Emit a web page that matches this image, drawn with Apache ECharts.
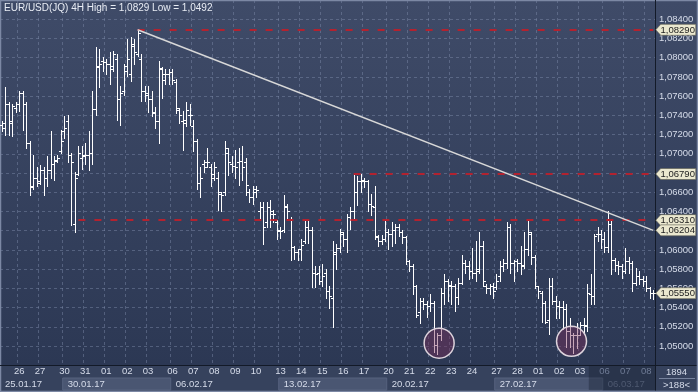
<!DOCTYPE html>
<html>
<head>
<meta charset="utf-8">
<script src="https://cdn.jsdelivr.net/npm/echarts@6/dist/echarts.min.js"></script>
<style>
html,body{margin:0;padding:0;background:#33405c;}
#c{width:698px;height:392px;}
</style>
</head>
<body>
<div id="c"></div>
<script>
// ---- Data (EUR/USD 4H bars) ----
const opens = [
1.0730,1.0732,1.0752,1.0734,1.0748,1.0752,1.0763,1.0752,1.0711,1.0667,1.0675,1.0672,1.0683,1.0675,1.0683,1.0689,1.0694,1.0703,1.0724,1.0734,
1.0699,1.0627,1.0679,1.0696,1.0698,1.0699,1.0701,1.0747,1.0790,1.0797,1.0795,1.0793,1.0791,1.0799,1.0757,1.0765,1.0786,1.0783,1.0812,1.0804,
1.0799,1.0765,1.0763,1.0757,1.0742,1.0734,1.0789,1.0783,1.0783,1.0785,1.0775,1.0746,1.0734,1.0735,1.0740,1.0729,1.0713,1.0670,1.0689,1.0691,
1.0686,1.0679,1.0675,1.0658,1.0660,1.0701,1.0689,1.0687,1.0691,1.0693,1.0691,1.0660,1.0655,1.0660,1.0640,1.0645,1.0629,1.0645,1.0637,1.0629,
1.0620,1.0621,1.0646,1.0632,1.0603,1.0598,1.0601,1.0609,1.0624,1.0621,1.0576,1.0576,1.0568,1.0576,1.0557,1.0550,1.0598,1.0602,1.0617,1.0611,
1.0634,1.0640,1.0660,1.0672,1.0672,1.0672,1.0648,1.0645,1.0613,1.0609,1.0611,1.0619,1.0617,1.0621,1.0624,1.0619,1.0613,1.0589,1.0583,1.0562,
1.0535,1.0547,1.0544,1.0542,1.0545,1.0501,1.0511,1.0555,1.0568,1.0563,1.0562,1.0551,1.0566,1.0586,1.0583,1.0578,1.0576,1.0580,1.0604,1.0563,
1.0560,1.0562,1.0561,1.0573,1.0583,1.0586,1.0624,1.0586,1.0588,1.0586,1.0584,1.0601,1.0617,1.0593,1.0562,1.0555,1.0545,1.0527,1.0563,1.0547,
1.0542,1.0541,1.0539,1.0516,1.0511,1.0512,1.0512,1.0522,1.0521,1.0554,1.0552,1.0617,1.0617,1.0611,1.0603,1.0627,1.0590,1.0584,1.0583,1.0578,
1.0588,1.0586,1.0566,1.0573,1.0570,1.0568,1.0560,1.0555];
const highs = [
1.0734,1.0769,1.0754,1.0752,1.0754,1.0765,1.0765,1.0754,1.0713,1.0699,1.0686,1.0688,1.0686,1.0698,1.0724,1.0698,1.0699,1.0725,1.0739,1.0740,
1.0701,1.0681,1.0708,1.0708,1.0711,1.0724,1.0765,1.0811,1.0809,1.0801,1.0799,1.0806,1.0807,1.0804,1.0771,1.0793,1.0819,1.0821,1.0819,1.0829,
1.0804,1.0771,1.0771,1.0765,1.0749,1.0797,1.0790,1.0788,1.0788,1.0788,1.0778,1.0748,1.0745,1.0754,1.0752,1.0735,1.0715,1.0686,1.0694,1.0706,
1.0689,1.0691,1.0681,1.0660,1.0713,1.0706,1.0698,1.0704,1.0706,1.0708,1.0696,1.0663,1.0667,1.0667,1.0650,1.0650,1.0650,1.0652,1.0642,1.0631,
1.0624,1.0657,1.0648,1.0634,1.0604,1.0601,1.0611,1.0632,1.0632,1.0624,1.0583,1.0583,1.0585,1.0580,1.0563,1.0609,1.0606,1.0622,1.0619,1.0637,
1.0645,1.0679,1.0677,1.0679,1.0675,1.0673,1.0658,1.0667,1.0616,1.0616,1.0631,1.0622,1.0629,1.0627,1.0627,1.0621,1.0614,1.0590,1.0585,1.0564,
1.0550,1.0550,1.0547,1.0554,1.0547,1.0514,1.0560,1.0575,1.0570,1.0568,1.0565,1.0571,1.0595,1.0590,1.0588,1.0602,1.0609,1.0619,1.0609,1.0565,
1.0565,1.0566,1.0575,1.0588,1.0591,1.0629,1.0627,1.0590,1.0591,1.0604,1.0619,1.0631,1.0619,1.0595,1.0563,1.0557,1.0547,1.0571,1.0571,1.0552,
1.0547,1.0547,1.0544,1.0529,1.0514,1.0524,1.0525,1.0529,1.0565,1.0575,1.0617,1.0624,1.0621,1.0619,1.0640,1.0631,1.0592,1.0588,1.0585,1.0602,
1.0593,1.0588,1.0581,1.0578,1.0573,1.0573,1.0561,1.0558];
const lows = [
1.0724,1.0720,1.0720,1.0719,1.0744,1.0745,1.0725,1.0706,1.0657,1.0663,1.0667,1.0669,1.0657,1.0667,1.0675,1.0673,1.0691,1.0701,1.0716,1.0691,
1.0626,1.0619,1.0678,1.0684,1.0689,1.0683,1.0689,1.0740,1.0770,1.0786,1.0783,1.0773,1.0786,1.0735,1.0730,1.0761,1.0781,1.0776,1.0793,1.0802,
1.0755,1.0755,1.0744,1.0739,1.0727,1.0711,1.0758,1.0773,1.0773,1.0773,1.0742,1.0732,1.0704,1.0729,1.0730,1.0703,1.0663,1.0655,1.0681,1.0686,
1.0667,1.0673,1.0642,1.0640,1.0657,1.0678,1.0681,1.0675,1.0668,1.0673,1.0657,1.0650,1.0648,1.0655,1.0632,1.0606,1.0624,1.0624,1.0629,1.0611,
1.0612,1.0619,1.0631,1.0590,1.0591,1.0590,1.0590,1.0607,1.0607,1.0561,1.0561,1.0565,1.0563,1.0550,1.0540,1.0520,1.0580,1.0598,1.0604,1.0598,
1.0622,1.0632,1.0647,1.0660,1.0665,1.0640,1.0636,1.0611,1.0604,1.0606,1.0609,1.0601,1.0604,1.0607,1.0614,1.0607,1.0585,1.0578,1.0554,1.0530,
1.0524,1.0539,1.0530,1.0537,1.0494,1.0492,1.0506,1.0544,1.0547,1.0544,1.0537,1.0544,1.0565,1.0576,1.0570,1.0571,1.0568,1.0576,1.0563,1.0555,
1.0554,1.0550,1.0559,1.0568,1.0578,1.0581,1.0576,1.0568,1.0578,1.0575,1.0581,1.0595,1.0585,1.0560,1.0550,1.0525,1.0524,1.0513,1.0544,1.0529,
1.0529,1.0518,1.0499,1.0499,1.0493,1.0498,1.0511,1.0513,1.0516,1.0544,1.0544,1.0609,1.0602,1.0598,1.0598,1.0575,1.0578,1.0575,1.0571,1.0576,
1.0576,1.0557,1.0564,1.0565,1.0563,1.0557,1.0550,1.0549];
const closes = [
1.0727,1.0752,1.0732,1.0750,1.0752,1.0763,1.0752,1.0711,1.0665,1.0675,1.0670,1.0683,1.0675,1.0683,1.0689,1.0693,1.0696,1.0713,1.0727,1.0699,
1.0691,1.0675,1.0701,1.0699,1.0699,1.0701,1.0747,1.0791,1.0793,1.0795,1.0793,1.0788,1.0804,1.0757,1.0763,1.0791,1.0799,1.0814,1.0806,1.0826,
1.0765,1.0761,1.0757,1.0744,1.0734,1.0788,1.0777,1.0783,1.0785,1.0777,1.0748,1.0740,1.0732,1.0746,1.0740,1.0713,1.0670,1.0675,1.0686,1.0691,
1.0675,1.0686,1.0660,1.0657,1.0706,1.0691,1.0687,1.0686,1.0693,1.0686,1.0668,1.0655,1.0663,1.0662,1.0645,1.0624,1.0645,1.0640,1.0637,1.0621,
1.0620,1.0645,1.0640,1.0603,1.0598,1.0601,1.0605,1.0624,1.0621,1.0576,1.0575,1.0568,1.0573,1.0557,1.0552,1.0596,1.0602,1.0619,1.0611,1.0634,
1.0640,1.0660,1.0672,1.0673,1.0672,1.0648,1.0646,1.0614,1.0609,1.0611,1.0619,1.0617,1.0621,1.0624,1.0619,1.0613,1.0589,1.0583,1.0562,1.0532,
1.0547,1.0544,1.0542,1.0545,1.0501,1.0511,1.0555,1.0568,1.0564,1.0562,1.0551,1.0566,1.0586,1.0583,1.0578,1.0576,1.0578,1.0604,1.0568,1.0560,
1.0562,1.0557,1.0568,1.0583,1.0586,1.0624,1.0586,1.0588,1.0586,1.0583,1.0601,1.0619,1.0593,1.0562,1.0557,1.0545,1.0525,1.0563,1.0547,1.0542,
1.0541,1.0539,1.0516,1.0511,1.0511,1.0512,1.0522,1.0522,1.0555,1.0552,1.0614,1.0617,1.0611,1.0603,1.0627,1.0590,1.0584,1.0583,1.0578,1.0588,
1.0586,1.0566,1.0573,1.0570,1.0568,1.0560,1.0555,1.0555];

// day labels (first bar of each trading day) and week labels
const dayStartIdx = [5,11,18,24,30,36,42,49,55,61,67,73,80,86,92,98,104,111,117,123,129,135,142,148,154,160,166,173,179,185];
const dayNames = ['26','27','30','31','01','02','03','06','07','08','09','10','13','14','15','16','17','20','21','22','23','24','27','28','01','02','03','06','07','08'];
const weekStartIdx = [0,18,49,80,111,142,173];
const weekNames = ['25.01.17','30.01.17','06.02.17','13.02.17','20.02.17','27.02.17','06.03.17'];
const dimStartIdx = 169;

// trend line and horizontal levels
const trendX = [39, 187];
const trendY = [1.0829, 1.06204];
const levelValues = [1.0829, 1.0679, 1.0631];
const levelStartIdx = [39, 101, 22];
const circleIdx = [126, 164];
const circleVal = [1.0503, 1.0505];

const yTicksMin = 1.048, yTicksMax = 1.086, yTickStep = 0.002;

const N = opens.length;
const cats = new Array(N).fill('');
dayStartIdx.forEach((k, j) => { cats[k] = dayNames[j]; });
const ohlc = opens.map((o, i) => [i, o, highs[i], lows[i], closes[i]]);

const FONT = '"Liberation Sans", Arial, sans-serif';
const fmt5 = v => v.toFixed(5).replace('.', ',');
const fmt4 = v => v.toFixed(4).replace('.', ',');
const hi = Math.max(...highs), lo = Math.min(...lows);
const lastClose = closes[N - 1];

const chart = echarts.init(document.getElementById('c'), null, {renderer: 'canvas'});

const tagPath = 'path://M0,5 L5,0 L40,0 L40,10 L5,10 Z';
const tagValues = [levelValues[0], levelValues[1], levelValues[2], trendY[1], lastClose];
const tagPoints = tagValues.map(v => ({
  coord: [N - 1, v], value: v,
  symbol: tagPath, symbolSize: [40, 11], symbolKeepAspect: false, symbolOffset: [22.5, 0],
  itemStyle: {color: '#ebe8cf', borderColor: '#5d5d50', borderWidth: 0.5},
  label: {show: true, position: 'inside', offset: [2, 0.5], formatter: () => fmt5(v),
          color: '#222', fontSize: 9.5, fontFamily: FONT}
}));
const circlePoints = circleIdx.map((k, j) => ({
  coord: [k, circleVal[j]], symbol: 'circle', symbolSize: 30, symbolOffset: [-1.6, 0],
  itemStyle: {color: 'rgba(125,45,90,0.42)', borderColor: '#ddd3dc', borderWidth: 1.5},
  label: {show: false}
}));

const option = {
  animation: false,
  backgroundColor: {
    type: 'linear', x: 0, y: 0, x2: 0, y2: 1,
    colorStops: [
      {offset: 0, color: '#3f4b68'},
      {offset: 0.93, color: '#2c3854'},
      {offset: 0.931, color: '#36425d'},
      {offset: 1, color: '#36425d'}
    ]
  },
  title: {
    text: 'EUR/USD(JQ) 4H High = ' + fmt4(hi) + ' Low = ' + fmt4(lo),
    left: 4, top: 3, padding: 0,
    textStyle: {color: '#e8ecf4', fontSize: 10, fontWeight: 'normal', fontFamily: FONT}
  },
  grid: {left: 0, right: 43, top: -5.2, bottom: 26.7, containLabel: false},
  xAxis: {
    type: 'category', data: cats, boundaryGap: true,
    axisLine: {show: true, lineStyle: {color: '#131a28', width: 1}},
    axisTick: {show: false},
    axisLabel: {
      interval: (i, v) => v !== '', margin: 1, color: '#d6dcea', fontSize: 9.5, fontFamily: FONT,
      formatter: (v, i) => (i >= dimStartIdx ? '{d|' + v + '}' : v),
      rich: {d: {color: '#6f7b95', fontSize: 9.5, fontFamily: FONT}}
    },
    splitLine: {show: true, interval: (i, v) => v !== '',
      lineStyle: {color: 'rgba(128,143,172,0.45)', type: [3, 3], width: 1}}
  },
  yAxis: {
    type: 'value', position: 'right', min: yTicksMin, max: yTicksMax, interval: yTickStep,
    axisLine: {show: true, lineStyle: {color: '#131a28', width: 1}},
    axisTick: {show: false},
    axisLabel: {showMinLabel: false, showMaxLabel: false, margin: 4, color: '#d6dcea',
      fontSize: 9.5, fontFamily: FONT, formatter: v => fmt5(v)},
    splitLine: {show: true, lineStyle: {color: 'rgba(128,143,172,0.45)', type: [3, 3], width: 1}}
  },
  series: [
    {
      type: 'custom', name: 'EURUSD', data: ohlc,
      encode: {x: 0, y: [1, 2, 3, 4]},
      renderItem: (params, api) => {
        const i = api.value(0);
        const pH = api.coord([i, api.value(2)]);
        const pL = api.coord([i, api.value(3)]);
        const pO = api.coord([i, api.value(1)]);
        const pC = api.coord([i, api.value(4)]);
        const x = Math.round(pH[0]) + 0.5;
        const yo = Math.round(pO[1]) + 0.5, yc = Math.round(pC[1]) + 0.5;
        const st = {stroke: '#ffffff', lineWidth: 1};
        return {type: 'group', children: [
          {type: 'line', shape: {x1: x, y1: Math.round(pH[1]), x2: x, y2: Math.round(pL[1]) + 1}, style: st},
          {type: 'line', shape: {x1: x - 2.5, y1: yo, x2: x, y2: yo}, style: st},
          {type: 'line', shape: {x1: x, y1: yc, x2: x + 2.5, y2: yc}, style: st}
        ]};
      }
    },
    {
      type: 'line', name: 'trend', clip: false, z: 5,
      data: trendX.map((k, j) => [k, trendY[j]]),
      symbol: 'none', lineStyle: {color: '#d8d8d8', width: 1.5},
      markLine: {
        silent: true, symbol: 'none', label: {show: false},
        lineStyle: {color: '#b3222f', type: [7, 9], width: 2},
        data: levelValues.map((v, j) => [{coord: [levelStartIdx[j], v]}, {coord: [N - 1, v]}])
      },
      markPoint: {silent: true, data: circlePoints.concat(tagPoints)}
    }
  ]
};
chart.setOption(option);

// ---- decoration of the date bar (positions derived from the axis) ----
const px = i => chart.convertToPixel({xAxisIndex: 0}, i);
const bw = px(1) - px(0);
const edge = i => px(i) - bw / 2;
const gridRight = edge(N);
const rowTop = 378, rowH = 12, axisY = 365.5;
const els = [];
weekStartIdx.forEach((k, j) => {
  const x0 = edge(k);
  const x1 = j + 1 < weekStartIdx.length ? edge(weekStartIdx[j + 1]) : gridRight;
  if (j % 2 === 1) {
    els.push({type: 'rect', shape: {x: x0, y: rowTop, width: x1 - x0, height: rowH},
      style: {fill: '#4a5672', stroke: '#56627e', lineWidth: 1}});
  }
  els.push({type: 'text', x: x0 + 5, y: rowTop + rowH / 2 + 0.5,
    style: {text: weekNames[j], fill: k >= dimStartIdx ? '#6f7b95' : '#d6dcea',
      font: '9.5px ' + FONT, verticalAlign: 'middle', align: 'left'}});
});
// dimmed region at the end of the date bar
els.push({type: 'rect', shape: {x: edge(dimStartIdx), y: axisY, width: gridRight - edge(dimStartIdx), height: 392 - axisY - 2},
  style: {fill: 'rgba(18,25,42,0.35)'}});
// bottom-right counter box
els.push({type: 'line', shape: {x1: gridRight + 0.5, y1: axisY, x2: gridRight + 0.5, y2: 392}, style: {stroke: '#131a28', lineWidth: 1}});
els.push({type: 'line', shape: {x1: gridRight, y1: axisY, x2: 698, y2: axisY}, style: {stroke: '#131a28', lineWidth: 1}});
els.push({type: 'line', shape: {x1: gridRight + 4, y1: 378.5, x2: 695, y2: 378.5}, style: {stroke: '#76829c', lineWidth: 1}});
els.push({type: 'text', x: (gridRight + 698) / 2, y: 372, style: {text: '1894', fill: '#d6dcea', font: '9.5px ' + FONT, align: 'center', verticalAlign: 'middle'}});
els.push({type: 'text', x: (gridRight + 698) / 2, y: 385, style: {text: '>' + N + '<', fill: '#d6dcea', font: '9.5px ' + FONT, align: 'center', verticalAlign: 'middle'}});
// outer frame
els.push({type: 'rect', shape: {x: 0.5, y: 0.5, width: 697, height: 391}, style: {fill: 'none', stroke: '#7c88a4', lineWidth: 1.5}});
chart.setOption({graphic: {elements: els}});
</script>
</body>
</html>
